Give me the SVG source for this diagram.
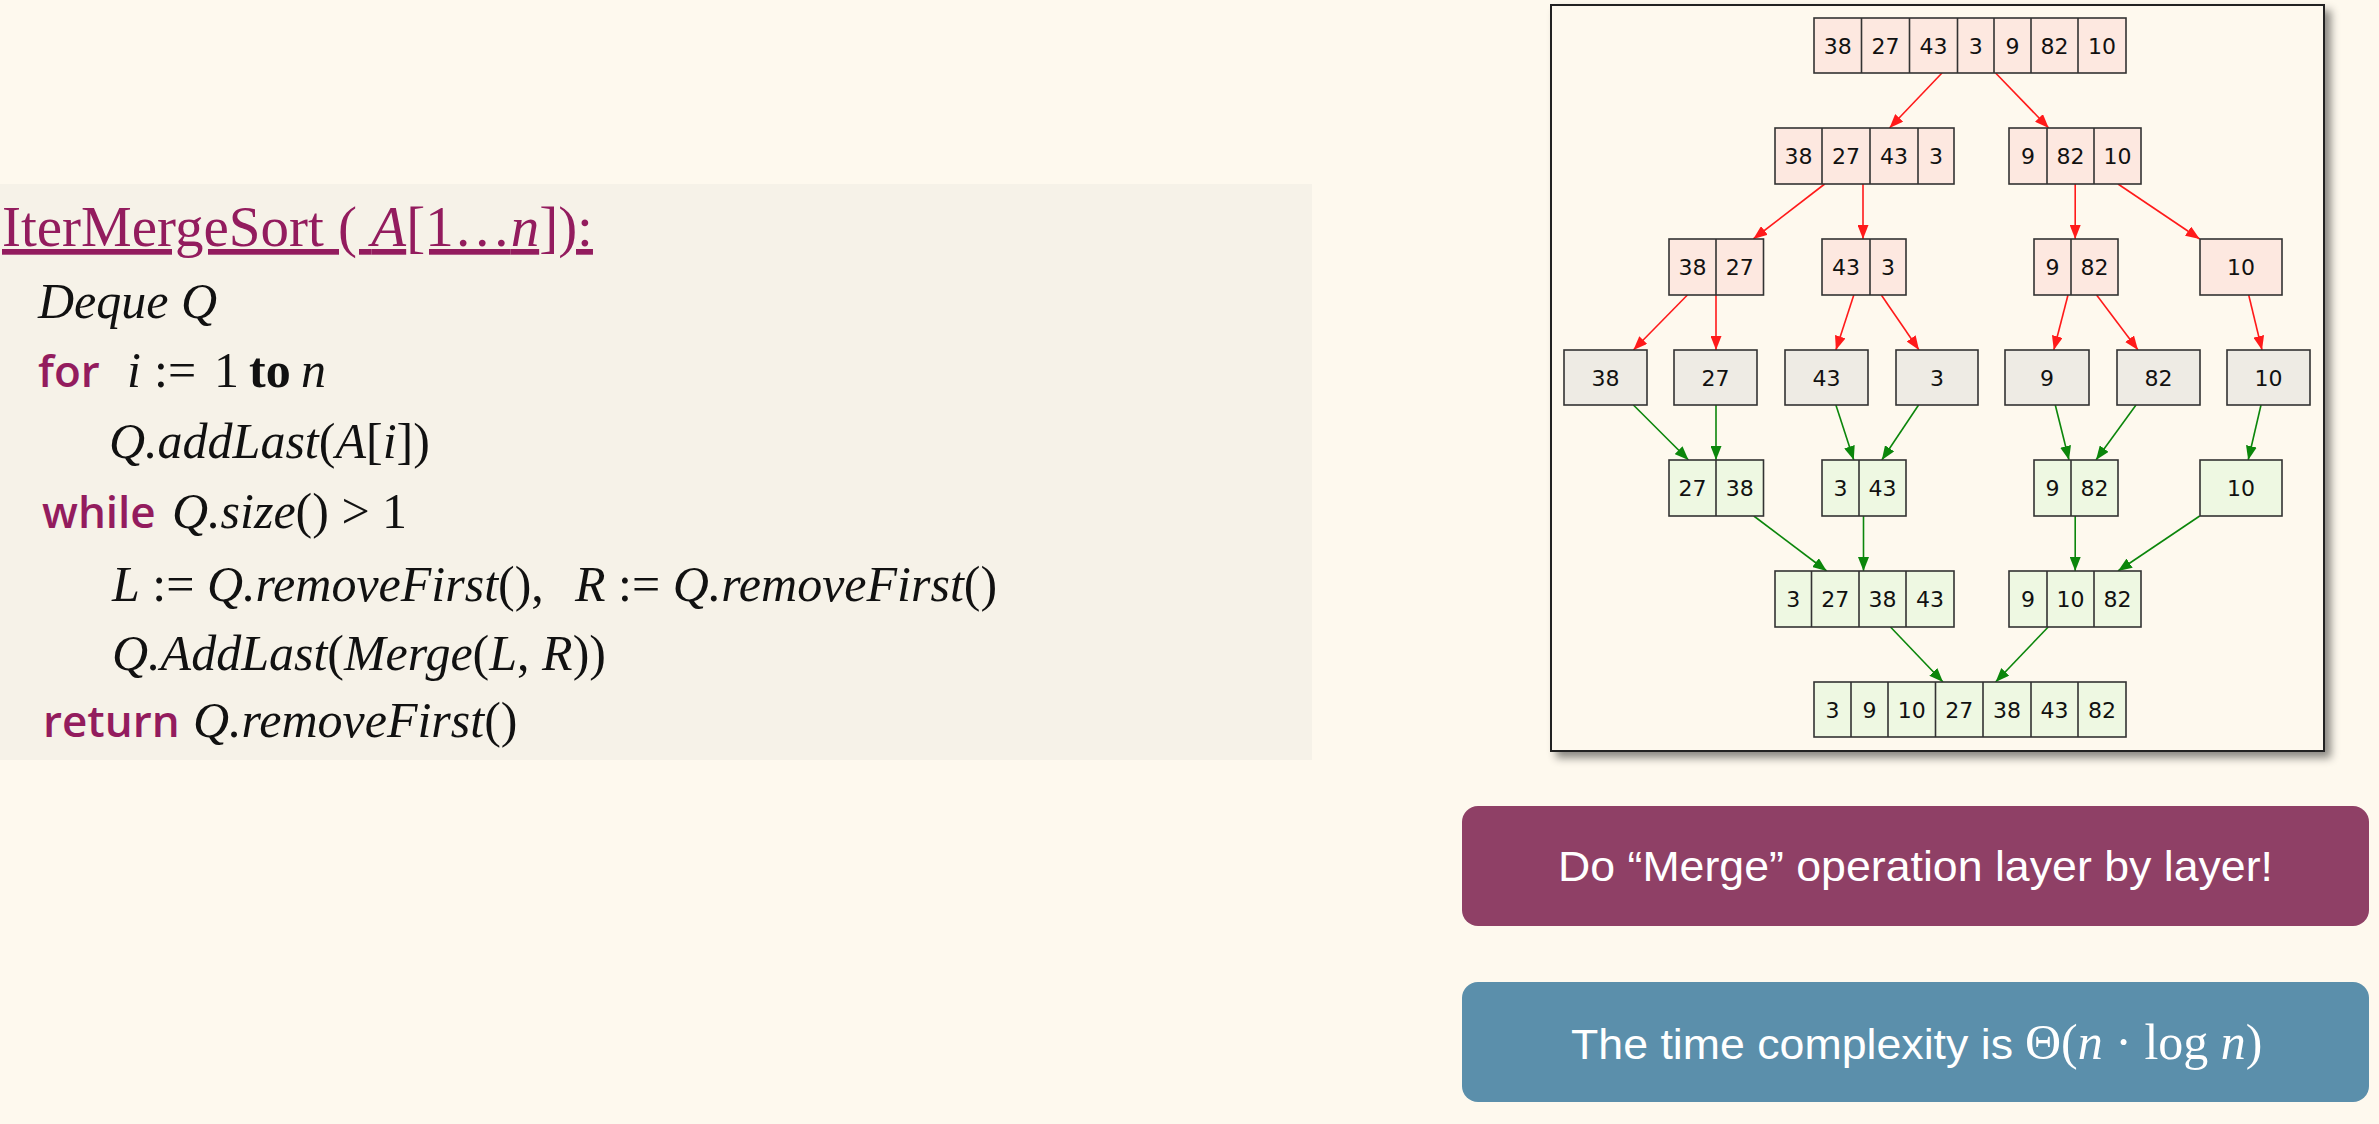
<svg xmlns="http://www.w3.org/2000/svg" width="2379" height="1124" viewBox="0 0 2379 1124">
<style>
  .serif{font-family:"Liberation Serif","Times New Roman",serif;}
  .code{font-family:"Liberation Serif","Times New Roman",serif;font-size:50px;fill:#111;}
  .kw{font-family:"Open Sans","Noto Sans",sans-serif;font-weight:600;font-size:44px;fill:#931c5e;}
  .it{font-style:italic;}
  .cell{stroke:#333;stroke-width:1.6;}
  .pink{fill:#fde8e0;}
  .grey{fill:#eeebe4;}
  .green{fill:#eef8e2;}
  .sep{stroke:#333;stroke-width:1.6;}
  .num{font-family:"DejaVu Sans","Liberation Sans",sans-serif;font-size:22px;fill:#111;text-anchor:middle;}
  .red{stroke:#ff1a1a;stroke-width:1.6;fill:none;marker-end:url(#ar);}
  .grn{stroke:#0b860b;stroke-width:1.6;fill:none;marker-end:url(#ag);}
  .btxt{font-family:"Liberation Sans",Arial,sans-serif;font-size:42px;fill:#fff;}
</style>
<defs>
  <marker id="ar" markerUnits="userSpaceOnUse" markerWidth="15" markerHeight="11" refX="14" refY="5.5" orient="auto">
    <path d="M0,0 L14,5.5 L0,11 z" fill="#ff1a1a"/>
  </marker>
  <marker id="ag" markerUnits="userSpaceOnUse" markerWidth="15" markerHeight="11" refX="14" refY="5.5" orient="auto">
    <path d="M0,0 L14,5.5 L0,11 z" fill="#0b860b"/>
  </marker>
  <filter id="shadow" x="-5%" y="-5%" width="115%" height="115%">
    <feDropShadow dx="6" dy="6" stdDeviation="4" flood-color="#000" flood-opacity="0.45"/>
  </filter>
</defs>

<rect x="0" y="0" width="2379" height="1124" fill="#fef9ee"/>

<g id="code-panel">
  <rect x="0" y="184" width="1312" height="576" fill="#f6f2e8"/>
  <text class="serif" x="2" y="246" font-size="57" fill="#931c5e" text-decoration="underline">IterMergeSort ( <tspan class="it">A</tspan>[1…<tspan class="it">n</tspan>]):</text>
  <text class="code it" x="38" y="318">Deque Q</text>
  <text class="kw" x="38" y="387">for</text>
  <text class="code" y="387"><tspan x="127" class="it">i</tspan><tspan x="154">:=</tspan><tspan x="214">1</tspan><tspan x="249" font-weight="bold">to</tspan><tspan x="301" class="it">n</tspan></text>
  <text class="code" x="109" y="458"><tspan class="it">Q.addLast</tspan>(<tspan class="it">A</tspan>[<tspan class="it">i</tspan>])</text>
  <text class="kw" x="42" y="528">while</text>
  <text class="code" x="172" y="528"><tspan class="it">Q.size</tspan>() &gt; 1</text>
  <text class="code" x="112" y="601"><tspan class="it">L</tspan> := <tspan class="it">Q.removeFirst</tspan>(),</text>
  <text class="code" x="575" y="601"><tspan class="it">R</tspan> := <tspan class="it">Q.removeFirst</tspan>()</text>
  <text class="code" x="112" y="670"><tspan class="it">Q.AddLast</tspan>(<tspan class="it">Merge</tspan>(<tspan class="it">L</tspan>, <tspan class="it">R</tspan>))</text>
  <text class="kw" x="43" y="737">return</text>
  <text class="code" x="193" y="737"><tspan class="it">Q.removeFirst</tspan>()</text>
</g>

<g id="tree-frame">
  <rect x="1551" y="5" width="773" height="746" fill="#fef9ee" stroke="#222" stroke-width="2" filter="url(#shadow)"/>
</g>

<g id="connectors">
  <path class="red" d="M1942,73 L1889.5,128"/>
  <path class="red" d="M1995.6,73 L2048.7,128"/>
  <path class="red" d="M1824.7,184 L1753.3,239"/>
  <path class="red" d="M1863,184 L1863,239"/>
  <path class="red" d="M2075.2,184 L2075.2,239"/>
  <path class="red" d="M2118,184 L2199.7,239"/>
  <path class="red" d="M1687.4,295 L1633.4,350"/>
  <path class="red" d="M1716,295 L1716,350"/>
  <path class="red" d="M1853.8,295 L1835.9,350"/>
  <path class="red" d="M1881.3,295 L1919,350"/>
  <path class="red" d="M2068,295 L2053.8,350"/>
  <path class="red" d="M2096.6,295 L2138,350"/>
  <path class="red" d="M2248.7,295 L2262,350"/>
  <path class="grn" d="M1633.4,405 L1688.5,460"/>
  <path class="grn" d="M1716,405 L1716,460"/>
  <path class="grn" d="M1835.9,405 L1853.8,460"/>
  <path class="grn" d="M1918.6,405 L1881.8,460"/>
  <path class="grn" d="M2055.3,405 L2069,460"/>
  <path class="grn" d="M2136,405 L2096,460"/>
  <path class="grn" d="M2261,405 L2248.2,460"/>
  <path class="grn" d="M1753.8,516 L1826.7,571"/>
  <path class="grn" d="M1863.5,516 L1863.5,571"/>
  <path class="grn" d="M2075.2,516 L2075.2,571"/>
  <path class="grn" d="M2199.7,516 L2118,571"/>
  <path class="grn" d="M1890.5,627 L1943,682"/>
  <path class="grn" d="M2048.2,627 L1995.6,682"/>
</g>

<!-- Row 1 -->
<g id="n-root">
  <rect class="cell pink" x="1814" y="18" width="312" height="55"/>
  <path class="sep" d="M1861.5,18V73M1909.5,18V73M1957.5,18V73M1994,18V73M2031,18V73M2078,18V73"/>
  <text class="num" y="53.5"><tspan x="1837.75">38</tspan><tspan x="1885.5">27</tspan><tspan x="1933.5">43</tspan><tspan x="1975.75">3</tspan><tspan x="2012.5">9</tspan><tspan x="2054.5">82</tspan><tspan x="2102">10</tspan></text>
</g>
<!-- Row 2 -->
<g id="n-split-l">
  <rect class="cell pink" x="1775" y="128" width="179" height="56"/>
  <path class="sep" d="M1822,128V184M1870,128V184M1918,128V184"/>
  <text class="num" y="164"><tspan x="1798.5">38</tspan><tspan x="1846">27</tspan><tspan x="1894">43</tspan><tspan x="1936">3</tspan></text>
</g>
<g id="n-split-r">
  <rect class="cell pink" x="2009" y="128" width="132" height="56"/>
  <path class="sep" d="M2047,128V184M2094,128V184"/>
  <text class="num" y="164"><tspan x="2028">9</tspan><tspan x="2070.5">82</tspan><tspan x="2117.5">10</tspan></text>
</g>
<!-- Row 3 -->
<g id="n-split-38-27">
  <rect class="cell pink" x="1669" y="239" width="94.5" height="56"/>
  <path class="sep" d="M1716,239V295"/>
  <text class="num" y="275"><tspan x="1692.5">38</tspan><tspan x="1739.75">27</tspan></text>
</g>
<g id="n-split-43-3">
  <rect class="cell pink" x="1822" y="239" width="84" height="56"/>
  <path class="sep" d="M1870,239V295"/>
  <text class="num" y="275"><tspan x="1846">43</tspan><tspan x="1888">3</tspan></text>
</g>
<g id="n-split-9-82">
  <rect class="cell pink" x="2034" y="239" width="84" height="56"/>
  <path class="sep" d="M2071,239V295"/>
  <text class="num" y="275"><tspan x="2052.5">9</tspan><tspan x="2094.5">82</tspan></text>
</g>
<g id="n-split-10">
  <rect class="cell pink" x="2200" y="239" width="82" height="56"/>
  <text class="num" x="2241" y="275">10</text>
</g>
<!-- Row 4 leaves -->
<g id="n-leaf-38"><rect class="cell grey" x="1564" y="350" width="83" height="55"/><text class="num" x="1605.5" y="385.5">38</text></g>
<g id="n-leaf-27"><rect class="cell grey" x="1674" y="350" width="83" height="55"/><text class="num" x="1715.5" y="385.5">27</text></g>
<g id="n-leaf-43"><rect class="cell grey" x="1785" y="350" width="83" height="55"/><text class="num" x="1826.5" y="385.5">43</text></g>
<g id="n-leaf-3"><rect class="cell grey" x="1896" y="350" width="82" height="55"/><text class="num" x="1937" y="385.5">3</text></g>
<g id="n-leaf-9"><rect class="cell grey" x="2005" y="350" width="84" height="55"/><text class="num" x="2047" y="385.5">9</text></g>
<g id="n-leaf-82"><rect class="cell grey" x="2117" y="350" width="83" height="55"/><text class="num" x="2158.5" y="385.5">82</text></g>
<g id="n-leaf-10"><rect class="cell grey" x="2227" y="350" width="83" height="55"/><text class="num" x="2268.5" y="385.5">10</text></g>
<!-- Row 5 -->
<g id="n-merge-27-38">
  <rect class="cell green" x="1669" y="460" width="94.5" height="56"/>
  <path class="sep" d="M1716,460V516"/>
  <text class="num" y="496"><tspan x="1692.5">27</tspan><tspan x="1739.75">38</tspan></text>
</g>
<g id="n-merge-3-43">
  <rect class="cell green" x="1822" y="460" width="84" height="56"/>
  <path class="sep" d="M1859,460V516"/>
  <text class="num" y="496"><tspan x="1840.5">3</tspan><tspan x="1882.5">43</tspan></text>
</g>
<g id="n-merge-9-82">
  <rect class="cell green" x="2034" y="460" width="84" height="56"/>
  <path class="sep" d="M2071,460V516"/>
  <text class="num" y="496"><tspan x="2052.5">9</tspan><tspan x="2094.5">82</tspan></text>
</g>
<g id="n-merge-10">
  <rect class="cell green" x="2200" y="460" width="82" height="56"/>
  <text class="num" x="2241" y="496">10</text>
</g>
<!-- Row 6 -->
<g id="n-merge-l">
  <rect class="cell green" x="1775" y="571" width="179" height="56"/>
  <path class="sep" d="M1811.5,571V627M1859,571V627M1906,571V627"/>
  <text class="num" y="607"><tspan x="1793.25">3</tspan><tspan x="1835.25">27</tspan><tspan x="1882.5">38</tspan><tspan x="1930">43</tspan></text>
</g>
<g id="n-merge-r">
  <rect class="cell green" x="2009" y="571" width="132" height="56"/>
  <path class="sep" d="M2047,571V627M2094,571V627"/>
  <text class="num" y="607"><tspan x="2028">9</tspan><tspan x="2070.5">10</tspan><tspan x="2117.5">82</tspan></text>
</g>
<!-- Row 7 -->
<g id="n-result">
  <rect class="cell green" x="1814" y="682" width="312" height="55"/>
  <path class="sep" d="M1851,682V737M1888,682V737M1935.5,682V737M1983,682V737M2031,682V737M2078,682V737"/>
  <text class="num" y="717.5"><tspan x="1832.5">3</tspan><tspan x="1869.5">9</tspan><tspan x="1911.75">10</tspan><tspan x="1959.25">27</tspan><tspan x="2007">38</tspan><tspan x="2054.5">43</tspan><tspan x="2102">82</tspan></text>
</g>

<g id="box-merge">
  <rect x="1462" y="806" width="907" height="120" rx="16" fill="#8f4066"/>
  <text class="btxt" x="1558" y="881" textLength="715" lengthAdjust="spacingAndGlyphs">Do “Merge” operation layer by layer!</text>
</g>
<g id="box-complexity">
  <rect x="1462" y="982" width="907" height="120" rx="16" fill="#5b8fab"/>
  <text class="btxt" x="1571" y="1059" textLength="442" lengthAdjust="spacingAndGlyphs">The time complexity is</text>
  <text class="serif" x="2025" y="1059" font-size="50" fill="#fff">Θ(<tspan class="it">n</tspan> · log <tspan class="it">n</tspan>)</text>
</g>
</svg>
